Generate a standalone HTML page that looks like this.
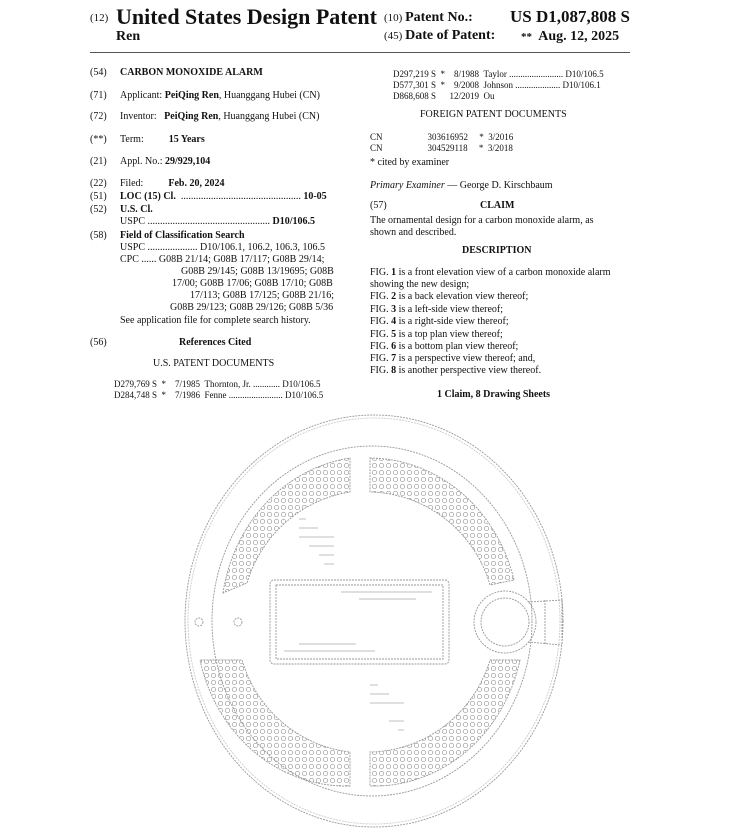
<!DOCTYPE html>
<html><head><meta charset="utf-8"><style>
body{margin:0;background:#fff;}
#p{position:relative;width:730px;height:836px;overflow:hidden;font-family:"Liberation Serif",serif;color:#111;font-size:10px;}
.t{position:absolute;white-space:nowrap;line-height:12px;}
b{font-weight:bold;}
.s{font-size:9px;}
</style></head><body><div id="p">
<div class="t" style="left:90px;top:12px;font-size:11px">(12)</div>
<div class="t" style="left:116px;top:4px;font-size:22px;line-height:26px;font-weight:bold">United States Design Patent</div>
<div class="t" style="left:116px;top:29px;font-size:14px;line-height:16px;font-weight:bold">Ren</div>
<div class="t" style="left:384px;top:12px;font-size:11px">(10) <b style="font-size:14px">Patent No.:</b></div>
<div class="t" style="left:510px;top:6px;font-size:17px;line-height:22px;font-weight:bold">US D1,087,808 S</div>
<div class="t" style="left:384px;top:30px;font-size:11px">(45) <b style="font-size:14px">Date of Patent:</b></div>
<div class="t" style="left:521px;top:28px;font-size:14px;line-height:18px;font-weight:bold"><span style="font-size:11px">**</span>&nbsp; Aug. 12, 2025</div>
<div style="position:absolute;left:90px;top:52px;width:540px;height:1px;background:#555"></div>

<div class="t" style="left:90px;top:67px">(54)</div><div class="t" style="left:120px;top:67px"><b>CARBON MONOXIDE ALARM</b></div>
<div class="t" style="left:90px;top:90px">(71)</div><div class="t" style="left:120px;top:90px">Applicant: <b>PeiQing Ren</b>, Huanggang Hubei (CN)</div>
<div class="t" style="left:90px;top:111px">(72)</div><div class="t" style="left:120px;top:111px">Inventor: &nbsp;&nbsp;<b>PeiQing Ren</b>, Huanggang Hubei (CN)</div>
<div class="t" style="left:90px;top:134px">(**)</div><div class="t" style="left:120px;top:134px">Term: &nbsp;&nbsp;&nbsp;&nbsp;&nbsp;&nbsp;&nbsp;&nbsp;&nbsp;<b>15 Years</b></div>
<div class="t" style="left:90px;top:156px">(21)</div><div class="t" style="left:120px;top:156px">Appl. No.: <b>29/929,104</b></div>
<div class="t" style="left:90px;top:178px">(22)</div><div class="t" style="left:120px;top:178px">Filed: &nbsp;&nbsp;&nbsp;&nbsp;&nbsp;&nbsp;&nbsp;&nbsp;&nbsp;<b>Feb. 20, 2024</b></div>
<div class="t" style="left:90px;top:191px">(51)</div><div class="t" style="left:120px;top:191px"><b>LOC (15) Cl.</b> &nbsp;................................................ <b>10-05</b></div>
<div class="t" style="left:90px;top:204px">(52)</div><div class="t" style="left:120px;top:204px"><b>U.S. Cl.</b></div>
<div class="t" style="left:120px;top:216px">USPC ................................................. <b>D10/106.5</b></div>
<div class="t" style="left:90px;top:230px">(58)</div><div class="t" style="left:120px;top:230px"><b>Field of Classification Search</b></div>
<div class="t" style="left:120px;top:242px">USPC .................... D10/106.1, 106.2, 106.3, 106.5</div>
<div class="t" style="left:120px;top:254px">CPC ...... G08B 21/14; G08B 17/117; G08B 29/14;</div>
<div class="t" style="left:181px;top:266px">G08B 29/145; G08B 13/19695; G08B</div>
<div class="t" style="left:172px;top:278px">17/00; G08B 17/06; G08B 17/10; G08B</div>
<div class="t" style="left:190px;top:290px">17/113; G08B 17/125; G08B 21/16;</div>
<div class="t" style="left:170px;top:302px">G08B 29/123; G08B 29/126; G08B 5/36</div>
<div class="t" style="left:120px;top:315px">See application file for complete search history.</div>
<div class="t" style="left:90px;top:337px">(56)</div><div class="t" style="left:179px;top:337px"><b>References Cited</b></div>
<div class="t" style="left:153px;top:358px">U.S. PATENT DOCUMENTS</div>
<div class="t s" style="left:114px;top:378px">D279,769 S &nbsp;* &nbsp;&nbsp;&nbsp;7/1985 &nbsp;Thornton, Jr. ............ D10/106.5</div>
<div class="t s" style="left:114px;top:389px">D284,748 S &nbsp;* &nbsp;&nbsp;&nbsp;7/1986 &nbsp;Fenne ........................ D10/106.5</div>

<div class="t s" style="left:393px;top:68px">D297,219 S &nbsp;* &nbsp;&nbsp;&nbsp;8/1988 &nbsp;Taylor ........................ D10/106.5</div>
<div class="t s" style="left:393px;top:79px">D577,301 S &nbsp;* &nbsp;&nbsp;&nbsp;9/2008 &nbsp;Johnson .................... D10/106.1</div>
<div class="t s" style="left:393px;top:90px">D868,608 S &nbsp;&nbsp;&nbsp;&nbsp;&nbsp;12/2019 &nbsp;Ou</div>
<div class="t" style="left:420px;top:109px">FOREIGN PATENT DOCUMENTS</div>
<div class="t s" style="left:370px;top:131px">CN &nbsp;&nbsp;&nbsp;&nbsp;&nbsp;&nbsp;&nbsp;&nbsp;&nbsp;&nbsp;&nbsp;&nbsp;&nbsp;&nbsp;&nbsp;&nbsp;&nbsp;&nbsp;&nbsp;303616952 &nbsp;&nbsp;&nbsp;&nbsp;* &nbsp;3/2016</div>
<div class="t s" style="left:370px;top:142px">CN &nbsp;&nbsp;&nbsp;&nbsp;&nbsp;&nbsp;&nbsp;&nbsp;&nbsp;&nbsp;&nbsp;&nbsp;&nbsp;&nbsp;&nbsp;&nbsp;&nbsp;&nbsp;&nbsp;304529118 &nbsp;&nbsp;&nbsp;&nbsp;* &nbsp;3/2018</div>
<div class="t" style="left:370px;top:157px">* cited by examiner</div>
<div class="t" style="left:370px;top:180px"><i>Primary Examiner</i> — George D. Kirschbaum</div>
<div class="t" style="left:370px;top:200px">(57)</div><div class="t" style="left:480px;top:200px"><b>CLAIM</b></div>
<div class="t" style="left:370px;top:215px">The ornamental design for a carbon monoxide alarm, as</div>
<div class="t" style="left:370px;top:227px">shown and described.</div>
<div class="t" style="left:462px;top:245px"><b>DESCRIPTION</b></div>
<div class="t" style="left:370px;top:267px">FIG. <b>1</b> is a front elevation view of a carbon monoxide alarm</div>
<div class="t" style="left:370px;top:279px">showing the new design;</div>
<div class="t" style="left:370px;top:291px">FIG. <b>2</b> is a back elevation view thereof;</div>
<div class="t" style="left:370px;top:304px">FIG. <b>3</b> is a left-side view thereof;</div>
<div class="t" style="left:370px;top:316px">FIG. <b>4</b> is a right-side view thereof;</div>
<div class="t" style="left:370px;top:329px">FIG. <b>5</b> is a top plan view thereof;</div>
<div class="t" style="left:370px;top:341px">FIG. <b>6</b> is a bottom plan view thereof;</div>
<div class="t" style="left:370px;top:353px">FIG. <b>7</b> is a perspective view thereof; and,</div>
<div class="t" style="left:370px;top:365px">FIG. <b>8</b> is another perspective view thereof.</div>
<div class="t" style="left:437px;top:389px"><b>1 Claim, 8 Drawing Sheets</b></div>

<svg style="position:absolute;left:0;top:0" width="730" height="836">
<defs>
<pattern id="dots" width="7" height="7" patternUnits="userSpaceOnUse"><circle cx="3.5" cy="3.5" r="2.2" fill="none" stroke="#999" stroke-width="0.7"/></pattern>
</defs>
<g fill="none" stroke="#999" stroke-width="0.9" stroke-dasharray="2 1">
<ellipse cx="374" cy="621" rx="189" ry="206"/>
<ellipse cx="374" cy="621" rx="186" ry="203" stroke="#ccc"/>
<ellipse cx="372" cy="621" rx="160" ry="175"/>
<g fill="url(#dots)">
<path d="M223,593 A150,163 0 0 1 350,458 L350,492 A128,130 0 0 0 247,583 Z"/>
<path d="M370,458 A150,163 0 0 1 514,580 L490,585 A128,130 0 0 0 370,492 Z"/>
<path d="M520,660 A150,163 0 0 1 370,786 L370,752 A128,130 0 0 0 490,660 Z"/>
<path d="M350,786 A150,163 0 0 1 200,660 L242,660 A128,130 0 0 0 350,752 Z"/>
</g>
<rect x="270" y="580" width="179" height="84" rx="4"/>
<rect x="276" y="585" width="167" height="74"/>
<circle cx="505" cy="622" r="31"/>
<circle cx="505" cy="622" r="24"/>
<path d="M528,602 L562,600 M528,642 L562,645 M562,600 L562,645 M545,600 L545,645"/>
<circle cx="199" cy="622" r="4"/><circle cx="238" cy="622" r="4"/>
</g>
<g stroke="#aaa" stroke-width="0.8">
<path d="M341,592 H432 M359,599 H416 M299,644 H356 M284,651 H375"/>
<path d="M299,519 H306 M299,528 H318 M299,537 H334 M309,546 H334 M319,555 H334 M324,564 H334"/>
<path d="M370,685 H378 M370,694 H389 M370,703 H404 M389,721 H404 M398,730 H404"/>
</g>
</svg>
</div></body></html>
